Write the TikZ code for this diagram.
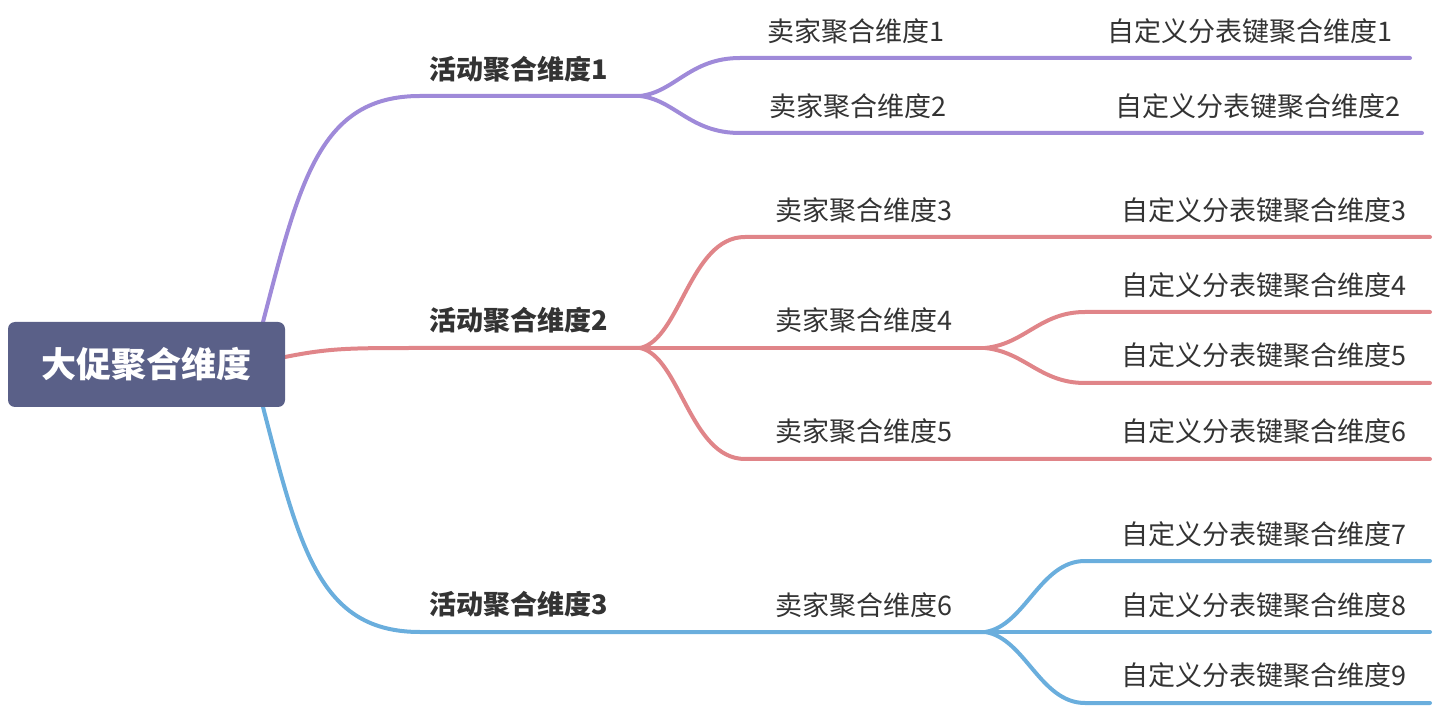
\documentclass[tikz,border=0pt]{standalone}
\usepackage{fontspec}
\newfontfamily\cjk{Noto Sans CJK SC}
\definecolor{pur}{HTML}{9F8AD9}
\definecolor{rbr}{HTML}{E08589}
\definecolor{bbr}{HTML}{6AAEDD}
\definecolor{rootc}{HTML}{5A6088}
\definecolor{txt}{HTML}{333333}
\tikzset{
  lbl/.style={inner sep=0pt, text=txt, font=\cjk\fontsize{27}{30}\selectfont, text height=23.2pt, text depth=3.3pt, anchor=center},
  mainlbl/.style={lbl, font=\cjk\bfseries\fontsize{27}{30}\selectfont},
  rootbox/.style={rectangle, rounded corners=7pt, fill=rootc, text=white, font=\cjk\bfseries\fontsize{35}{40}\selectfont, minimum width=277pt, minimum height=85pt, inner sep=0pt, text height=30pt, text depth=4.2pt},
  br/.style={line width=4pt, line cap=round},
}
\begin{document}
\begin{tikzpicture}[x=1pt,y=-1pt]
\useasboundingbox (0,0) rectangle (1436,708);
% anchor coordinates
\coordinate (rtop) at (263,322);
\coordinate (rright) at (285,357);
\coordinate (rbot) at (263,407);
\coordinate (j1) at (640,96);
\coordinate (j2) at (640,348);
\coordinate (j3s) at (420,632);
\coordinate (j1s) at (420,96);
\coordinate (j2s) at (420,348);
\coordinate (k4) at (985,348);
\coordinate (k6) at (985,632);
\coordinate (s1) at (740,58);
\coordinate (s2) at (740,133);
\coordinate (s3) at (745,237);
\coordinate (s5) at (745,459);
\coordinate (e1) at (1410,58);
\coordinate (e2) at (1422,133);
\coordinate (e3) at (1430,237);
\coordinate (e6) at (1430,459);
\coordinate (c4) at (1085,312);
\coordinate (c5) at (1085,383);
\coordinate (e4) at (1430,312);
\coordinate (e5) at (1430,383);
\coordinate (c7) at (1085,561);
\coordinate (c9) at (1085,703);
\coordinate (e7) at (1430,561);
\coordinate (e8) at (1430,632);
\coordinate (e9) at (1430,703);

% purple branch
\draw[br, pur] (rtop) .. controls (300,180) and (320,96) .. (j1s) -- (j1);
\draw[br, pur] (j1) .. controls (675,92) and (690,58) .. (s1) -- (e1);
\draw[br, pur] (j1) .. controls (675,100) and (690,133) .. (s2) -- (e2);
% red branch
\draw[br, rbr] (rright) .. controls (330,348) and (350,348) .. (j2s) -- (j2);
\draw[br, rbr] (j2) .. controls (680,340) and (690,237) .. (s3) -- (e3);
\draw[br, rbr] (j2) .. controls (680,356) and (690,459) .. (s5) -- (e6);
\draw[br, rbr] (j2) -- (k4);
\draw[br, rbr] (k4) .. controls (1025,344) and (1040,312) .. (c4) -- (e4);
\draw[br, rbr] (k4) .. controls (1025,352) and (1040,383) .. (c5) -- (e5);
% blue branch
\draw[br, bbr] (rbot) .. controls (300,550) and (320,632) .. (j3s) -- (k6);
\draw[br, bbr] (k6) .. controls (1025,626) and (1040,561) .. (c7) -- (e7);
\draw[br, bbr] (k6) -- (e8);
\draw[br, bbr] (k6) .. controls (1025,638) and (1040,703) .. (c9) -- (e9);

% root
\node[rootbox] (root) at (146.5,364.5) {大促聚合维度};

% level 1
\node[mainlbl] (a1) at (519,70) {活动聚合维度1};
\node[mainlbl] (a2) at (519,321) {活动聚合维度2};
\node[mainlbl] (a3) at (519,605) {活动聚合维度3};

% level 2
\node[lbl] (m1) at (856,32) {卖家聚合维度1};
\node[lbl] (m2) at (858,107) {卖家聚合维度2};
\node[lbl] (m3) at (864,211) {卖家聚合维度3};
\node[lbl] (m4) at (864,321) {卖家聚合维度4};
\node[lbl] (m5) at (864,432) {卖家聚合维度5};
\node[lbl] (m6) at (864,606) {卖家聚合维度6};

% level 3
\node[lbl] (d1) at (1250,32) {自定义分表键聚合维度1};
\node[lbl] (d2) at (1258,107) {自定义分表键聚合维度2};
\node[lbl] (d3) at (1264,211) {自定义分表键聚合维度3};
\node[lbl] (d4) at (1264,286) {自定义分表键聚合维度4};
\node[lbl] (d5) at (1264,356) {自定义分表键聚合维度5};
\node[lbl] (d6) at (1264,432) {自定义分表键聚合维度6};
\node[lbl] (d7) at (1264,535) {自定义分表键聚合维度7};
\node[lbl] (d8) at (1264,606) {自定义分表键聚合维度8};
\node[lbl] (d9) at (1264,676) {自定义分表键聚合维度9};
\end{tikzpicture}
\end{document}
